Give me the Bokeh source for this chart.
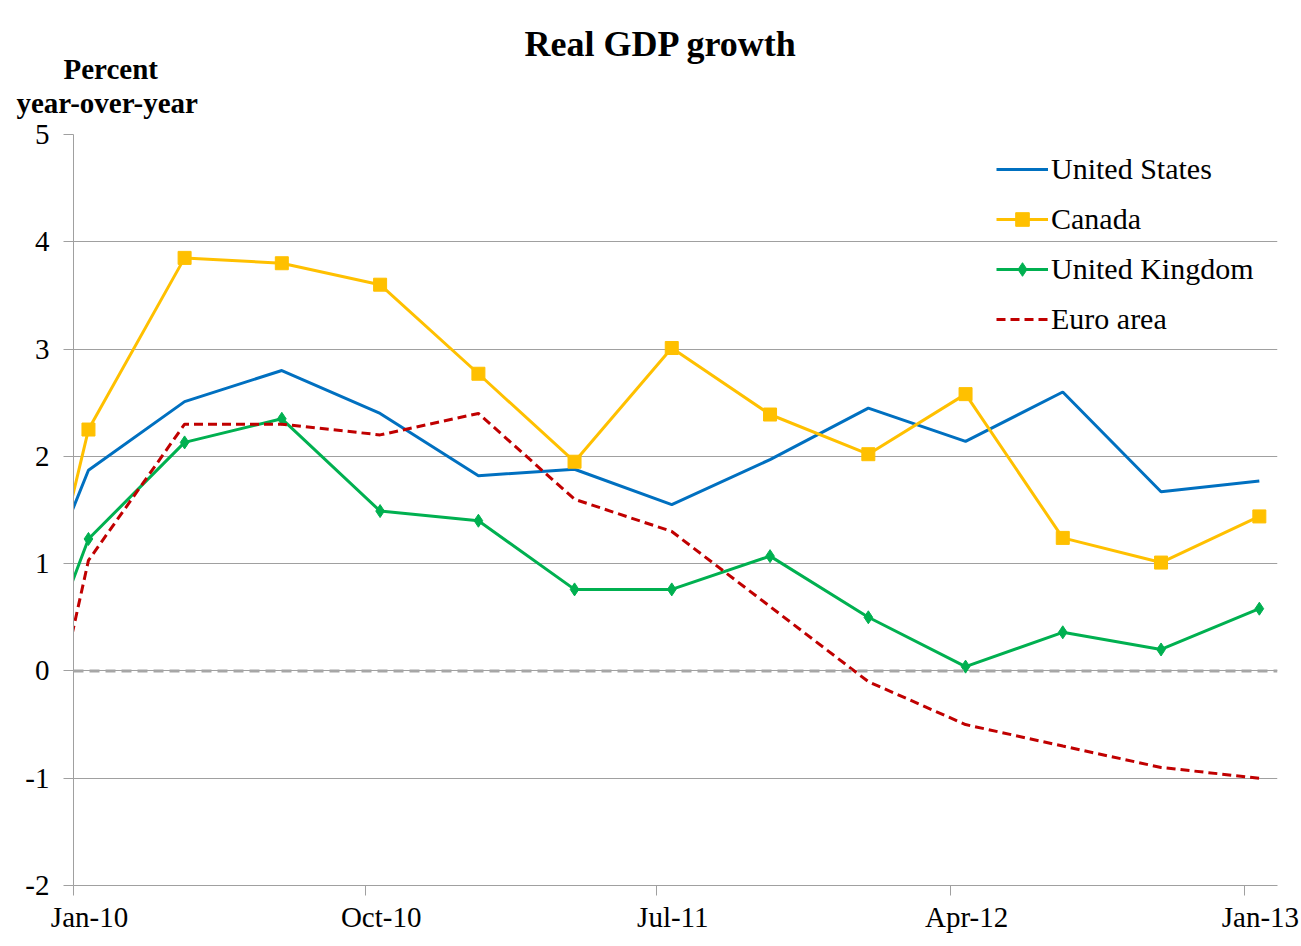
import calendar
from datetime import datetime

from bokeh.plotting import figure
from bokeh.models import (Range1d, FixedTicker, DatetimeTickFormatter, Span, Title,
                          Legend, LegendItem, ColumnDataSource)
from bokeh.embed import file_html
from bokeh.resources import INLINE

# ---------------- data ----------------
quarters = ["2009-10-15", "2010-01-15", "2010-04-15", "2010-07-15", "2010-10-15",
            "2011-01-15", "2011-04-15", "2011-07-15", "2011-10-15", "2012-01-15",
            "2012-04-15", "2012-07-15", "2012-10-15", "2013-01-15"]
united_states = [-0.4, 1.87, 2.51, 2.80, 2.40, 1.82, 1.88, 1.55, 1.97, 2.45, 2.14, 2.60, 1.67, 1.77]
canada = [-1.6, 2.25, 3.85, 3.80, 3.60, 2.77, 1.95, 3.01, 2.39, 2.02, 2.58, 1.24, 1.01, 1.44]
united_kingdom = [-1.2, 1.23, 2.13, 2.35, 1.49, 1.40, 0.76, 0.76, 1.07, 0.50, 0.04, 0.36, 0.20, 0.58]
euro_area = [-3.1, 1.03, 2.30, 2.30, 2.20, 2.40, 1.60, 1.30, 0.60, -0.10, -0.50, -0.70, -0.90, -1.00]
tick_dates = ["2010-01-01", "2010-10-01", "2011-07-01", "2012-04-01", "2013-01-01"]
tick_label_dates = ["2010-01-16", "2010-10-16", "2011-07-16", "2012-04-16", "2013-01-16"]
y_ticks = [-2, -1, 0, 1, 2, 3, 4, 5]
y_tick_labels = ["-2", "-1", "0", "1", "2", "3", "4", "5"]


def to_dt(s):
    return datetime.strptime(s, "%Y-%m-%d")


def to_ms(s):
    return calendar.timegm(to_dt(s).timetuple()) * 1000.0


FONT = "Liberation Serif"

src = ColumnDataSource(dict(
    date=[to_dt(q) for q in quarters],
    us=united_states, ca=canada, uk=united_kingdom, ea=euro_area,
))

p = figure(width=1300, height=935, output_backend="svg", toolbar_location=None,
           x_axis_type="datetime",
           x_range=Range1d(to_ms("2010-01-01"), to_ms("2013-02-01")),
           y_range=Range1d(-2, 5),
           min_border_left=73, min_border_right=23, min_border_top=134,
           min_border_bottom=50)
p.outline_line_color = None
p.background_fill_color = "white"
p.border_fill_color = "white"

# axes: labels sit mid-month, tick marks on the first of the month
p.xaxis.ticker = FixedTicker(ticks=[to_ms(t) for t in tick_label_dates],
                             minor_ticks=[to_ms(t) for t in tick_dates])
p.xaxis.formatter = DatetimeTickFormatter(
    microseconds="%b-%y", milliseconds="%b-%y", seconds="%b-%y", minsec="%b-%y",
    minutes="%b-%y", hourmin="%b-%y", hours="%b-%y", days="%b-%y",
    months="%b-%y", years="%b-%y")
p.xaxis.major_tick_line_color = None
p.xaxis.minor_tick_line_color = "#a0a0a0"
p.xaxis.minor_tick_in = 0
p.xaxis.minor_tick_out = 10
p.xaxis.major_tick_out = 10
p.xaxis.major_tick_in = 0

p.yaxis.ticker = FixedTicker(ticks=y_ticks)
p.yaxis.major_label_overrides = {t: s for t, s in zip(y_ticks, y_tick_labels)}
p.yaxis.major_tick_line_color = "#a0a0a0"
p.yaxis.minor_tick_line_color = None
p.yaxis.major_tick_in = 0
p.yaxis.major_tick_out = 10
for ax in (p.xaxis, p.yaxis):
    ax.axis_line_color = "#a0a0a0"
    ax.major_label_text_font = FONT
    ax.major_label_text_font_size = "29px"
    ax.major_label_text_color = "black"
p.yaxis.major_label_standoff = 14
p.xaxis.major_label_standoff = 5

p.xgrid.grid_line_color = None
p.ygrid.grid_line_color = "#a0a0a0"
p.ygrid.grid_line_width = 1

# zero line
p.add_layout(Span(location=0, dimension="width", line_color="#a6a6a6",
                  line_width=3, line_dash="10 6"))

# series
r_us = p.line("date", "us", source=src, line_color="#0070C0", line_width=3)
r_ca = p.line("date", "ca", source=src, line_color="#FFC000", line_width=3)
r_ca_m = p.scatter("date", "ca", source=src, marker="square", size=13,
                   fill_color="#FFC000", line_color="#FFC000")
r_uk = p.line("date", "uk", source=src, line_color="#00B050", line_width=3)
r_uk_m = p.scatter("date", "uk", source=src, marker="diamond", size=13,
                   fill_color="#00B050", line_color="#00B050")
r_ea = p.line("date", "ea", source=src, line_color="#C00000", line_width=3,
              line_dash="9 5")

legend = Legend(items=[
    LegendItem(label="United States", renderers=[r_us]),
    LegendItem(label="Canada", renderers=[r_ca, r_ca_m]),
    LegendItem(label="United Kingdom", renderers=[r_uk, r_uk_m]),
    LegendItem(label="Euro area", renderers=[r_ea]),
], location=(923, 549))
legend.border_line_color = None
legend.background_fill_alpha = 0
legend.label_text_font = FONT
legend.label_text_font_size = "30px"
legend.label_text_color = "black"
legend.glyph_width = 52
legend.glyph_height = 34
legend.label_height = 34
legend.spacing = 16
legend.padding = 0
legend.margin = 0
legend.label_standoff = 3
p.add_layout(legend)

# y-axis caption (two lines) and chart title, stacked above the frame
p.add_layout(Title(text="year-over-year", align="left", offset=-57, standoff=31,
                   text_font=FONT, text_font_size="29px", text_font_style="bold",
                   text_color="black"), "above")
p.add_layout(Title(text="Percent", align="left", offset=-10, standoff=-30,
                   text_font=FONT, text_font_size="29px", text_font_style="bold",
                   text_color="black"), "above")
p.title.text = "Real GDP growth"
p.title.align = "left"
p.title.offset = 451
p.title.standoff = 4
p.title.text_font = FONT
p.title.text_font_size = "36px"
p.title.text_font_style = "bold"
p.title.text_color = "black"

open("out.html", "w").write(file_html(p, INLINE))
